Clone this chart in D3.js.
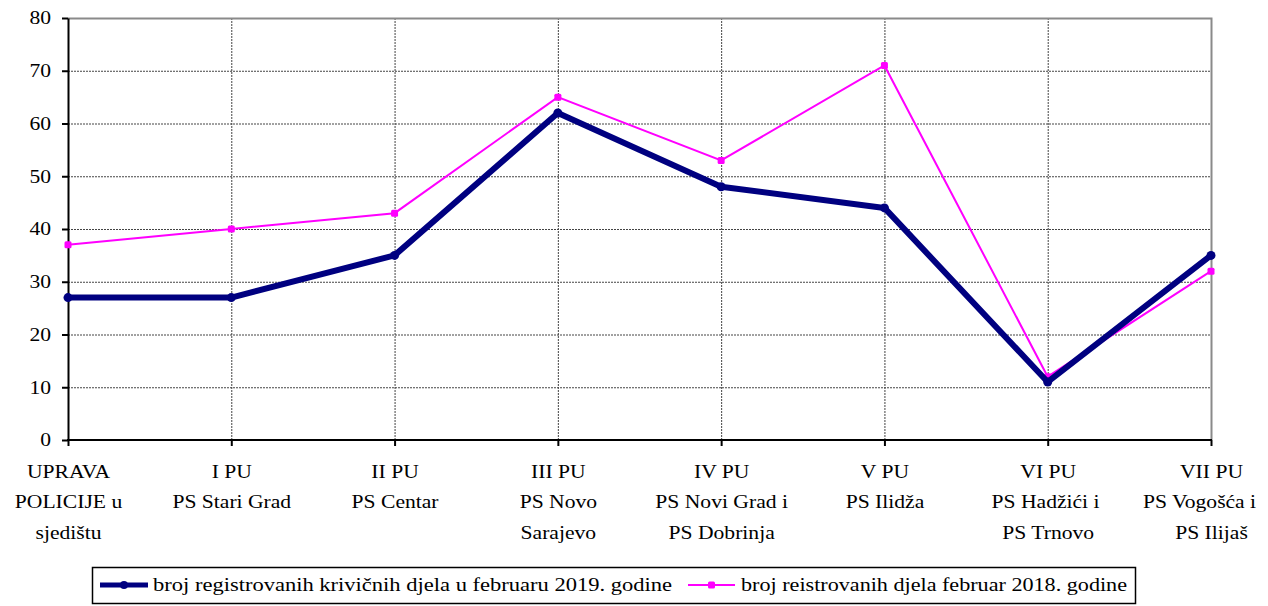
<!DOCTYPE html>
<html><head><meta charset="utf-8">
<script src="https://cdn.jsdelivr.net/npm/d3@7"></script>
<style>body{margin:0;background:#fff}svg{display:block}</style>
</head><body>
<svg id="c" width="1268" height="606" style="font-family:'Liberation Serif','Times New Roman',serif"></svg>
<script>
const categories = [
  ["UPRAVA","POLICIJE u","sjedištu"],
  ["I PU","PS Stari Grad"],
  ["II PU","PS Centar"],
  ["III PU","PS Novo","Sarajevo"],
  ["IV PU","PS Novi Grad i","PS Dobrinja"],
  ["V PU","PS Ilidža"],
  ["VI PU","PS Hadžići i ","PS Trnovo"],
  ["VII PU","PS Vogošća i ","PS Ilijaš"]
];
const series2019 = [27, 27, 35, 62, 48, 44, 11, 35];
const series2018 = [37, 40, 43, 65, 53, 71, 12, 32];
const yTicks = [0,10,20,30,40,50,60,70,80];
const seriesNames = ["broj registrovanih krivičnih djela u februaru 2019. godine","broj reistrovanih djela februar 2018. godine"];

const FONT = "'Liberation Serif','Times New Roman',serif";
const svg = d3.select("#c");
const L=68, R=1211, T=18, B=440;
const keys = categories.map((d,i)=>i);
const x = d3.scalePoint().domain(keys).range([L,R]);
const y = d3.scaleLinear().domain([0,80]).range([B,T]);

// grid
const g = svg.append("g");
g.selectAll(".hg").data(yTicks.filter(v=>v>0&&v<80)).join("line")
  .attr("x1",L).attr("x2",R).attr("y1",d=>y(d)+0.5).attr("y2",d=>y(d)+0.5)
  .attr("stroke","#444").attr("stroke-width",1).attr("stroke-dasharray","2,1");
g.selectAll(".vg").data(keys.slice(1,-1)).join("line")
  .attr("x1",d=>x(d)+0.5).attr("x2",d=>x(d)+0.5).attr("y1",T).attr("y2",B)
  .attr("stroke","#444").attr("stroke-width",1).attr("stroke-dasharray","2,1");
g.append("path").attr("d",`M${L},${T+0.5}H${R+0.5}V${B}`).attr("fill","none").attr("stroke","#8a8a8a").attr("stroke-width",2);

// y axis
const ya = svg.append("g").attr("transform",`translate(${L},0)`)
  .call(d3.axisLeft(y).tickValues(yTicks).tickSize(6).tickSizeOuter(0));
ya.attr("font-family",FONT).attr("font-size",null);
ya.select(".domain").attr("stroke","#000").attr("stroke-width",2);
ya.selectAll(".tick line").attr("stroke","#000").attr("stroke-width",2);
ya.selectAll(".tick text").style("font-family",FONT).style("font-size","18px").attr("fill","#000")
  .attr("transform","scale(1.2,1)").attr("x",-17/1.2);

// x axis
const SX = 1.2;
const xa = svg.append("g").attr("transform",`translate(0,${B})`)
  .call(d3.axisBottom(x).tickSize(6).tickSizeOuter(0).tickFormat(""));
xa.attr("font-family",FONT).attr("font-size",null);
xa.select(".domain").attr("stroke","#000").attr("stroke-width",2).attr("d",`M${L-1},0H${R+1}`);
xa.selectAll(".tick line").attr("stroke","#000").attr("stroke-width",2);
xa.selectAll(".tick").each(function(d){
  const t = d3.select(this).append("text").attr("text-anchor","middle").attr("xml:space","preserve")
    .style("font-family",FONT).style("font-size","18px")
    .attr("fill","#000").attr("transform",`scale(${SX},1)`);
  categories[d].forEach((s,i)=>{
    const ts = t.append("tspan").attr("x",0).attr("y",38+i*30.5).text(s);
    const len = ts.node().getComputedTextLength()*SX;
    const right = x(d) + len/2;
    if (right > 1261) ts.attr("x", -(right-1261)/SX);
  });
});

// lines
const line = d3.line().x((d,i)=>x(i)).y(d=>y(d));
svg.append("path").datum(series2018).attr("d",line).attr("fill","none").attr("stroke","#ff00ff").attr("stroke-width",2);
svg.selectAll(".m18").data(series2018).join("rect")
  .attr("x",(d,i)=>x(i)-3.5).attr("y",d=>y(d)-3.5).attr("width",7).attr("height",7).attr("rx",1.5).attr("fill","#ff00ff");
svg.append("path").datum(series2019).attr("d",line).attr("fill","none").attr("stroke","#000080").attr("stroke-width",6).attr("stroke-linejoin","round");
svg.selectAll(".m19").data(series2019).join("circle")
  .attr("cx",(d,i)=>x(i)).attr("cy",d=>y(d)).attr("r",4.5).attr("fill","#000080");

// legend
const lg = svg.append("g");
lg.append("rect").attr("x",92.5).attr("y",567.5).attr("width",1043).attr("height",36).attr("fill","#fff").attr("stroke","#000").attr("stroke-width",1.5);
const ly = 585;
lg.append("line").attr("x1",100).attr("x2",148).attr("y1",ly).attr("y2",ly).attr("stroke","#000080").attr("stroke-width",5);
lg.append("circle").attr("cx",124).attr("cy",ly).attr("r",4).attr("fill","#000080");
lg.append("text").attr("x",153).attr("y",ly+6).style("font-family",FONT).style("font-size","19px").text(seriesNames[0]).attr("textLength",519).attr("lengthAdjust","spacingAndGlyphs");
lg.append("line").attr("x1",688).attr("x2",735).attr("y1",ly).attr("y2",ly).attr("stroke","#ff00ff").attr("stroke-width",2);
lg.append("rect").attr("x",708).attr("y",ly-3.5).attr("width",7).attr("height",7).attr("rx",1.5).attr("fill","#ff00ff");
lg.append("text").attr("x",741).attr("y",ly+6).style("font-family",FONT).style("font-size","19px").text(seriesNames[1]).attr("textLength",386).attr("lengthAdjust","spacingAndGlyphs");
</script>
</body></html>
